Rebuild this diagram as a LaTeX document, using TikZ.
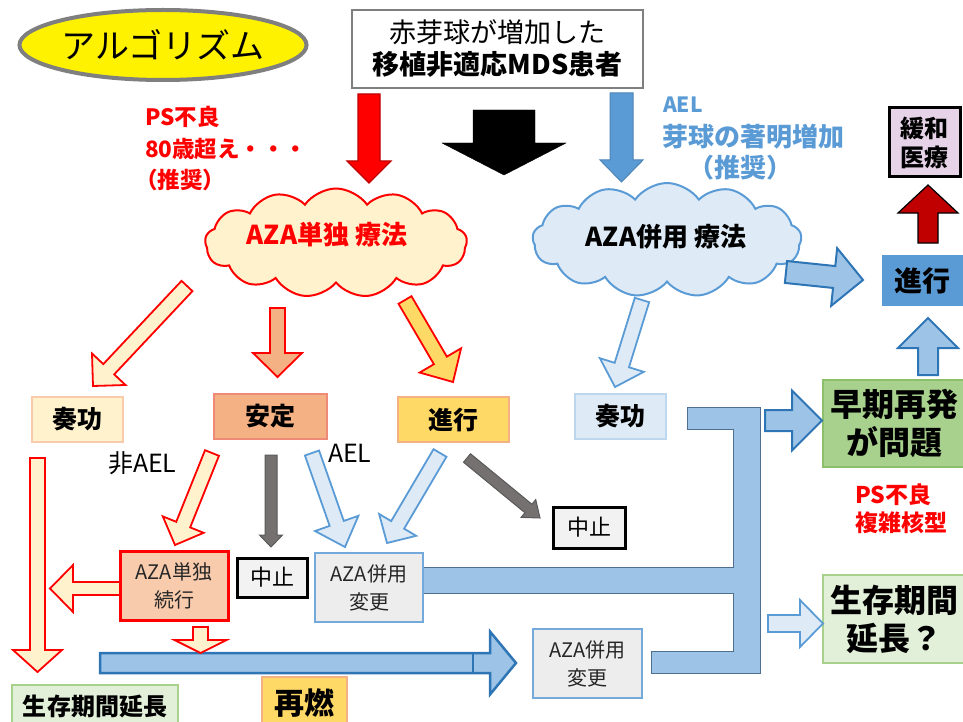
\documentclass[tikz,border=0pt]{standalone}
\usepackage{fontspec}
\setmainfont{Noto Sans CJK JP}
\usetikzlibrary{shapes.symbols,shapes.geometric,calc}
\newcommand\FS[2]{\fontsize{#1}{#2}\selectfont}
\definecolor{cream}{HTML}{FFF2CC}
\definecolor{salmon}{HTML}{F4B183}
\definecolor{yellowo}{HTML}{FFD966}
\definecolor{lsalmon}{HTML}{F8CBAD}
\definecolor{bluelight}{HTML}{DEEBF7}
\definecolor{bluelight2}{HTML}{9DC3E6}
\definecolor{bluemid}{HTML}{5B9BD5}
\definecolor{bluedark}{HTML}{2E75B6}
\definecolor{bluelb}{HTML}{BDD7EE}
\definecolor{greenm}{HTML}{A9D18E}
\definecolor{greenb}{HTML}{8CBF6C}
\definecolor{greenlight}{HTML}{E2F0D9}
\definecolor{gray7}{HTML}{7F7F7F}
\definecolor{gray1}{HTML}{F2F2F2}
\definecolor{grayarr}{HTML}{767171}
\definecolor{gray5}{HTML}{595959}
\definecolor{darkred}{HTML}{C00000}
\definecolor{lavender}{HTML}{E6D3E8}
\definecolor{boxgray}{HTML}{EDEDED}
\definecolor{bracketb}{HTML}{4F6F8F}
\definecolor{stablebd}{HTML}{F08A78}
% block arrow: style, from, to, shaft half width, head half width, head length
\newcommand\BA[6]{%
  \coordinate (baA) at #2;
  \coordinate (baB) at #3;
  \coordinate (baC) at ($(baB)!#6pt!(baA)$);
  \draw[#1] ($(baA)!#4pt!90:(baB)$) -- ($(baC)!#4pt!90:(baB)$) -- ($(baC)!#5pt!90:(baB)$) -- (baB)
    -- ($(baC)!#5pt!-90:(baB)$) -- ($(baC)!#4pt!-90:(baB)$) -- ($(baA)!#4pt!-90:(baB)$) -- cycle;
}
\begin{document}
\begin{tikzpicture}[x=1pt,y=-1pt,every node/.style={inner sep=0pt,outer sep=0pt}]
\tikzset{
  bx/.style={rectangle,line width=1.5pt,align=center},
  bigtxt/.style={font=\FS{25}{30}\bfseries},
  smalltxt/.style={font=\FS{20}{28},text=black!85},
  redarr/.style={draw=red,line width=1.8pt},
  bluearr/.style={fill=bluelight,draw=bluemid,line width=1.8pt},
  dbluearr/.style={fill=bluelight2,draw=bluedark,line width=2pt},
  grayarrow/.style={fill=grayarr,draw=gray5,line width=1pt},
  redtxt/.style={anchor=west,text=red,font=\FS{22.5}{26}\bfseries},
  cloudbase/.style={cloud,cloud puffs=13,cloud puff arc=110,aspect=2.4,line width=2pt}
}
\useasboundingbox (0,0) rectangle (963,722);

% title ellipse
\node[ellipse,draw=gray7,fill=yellow,line width=4pt,minimum width=280pt,minimum height=70pt,font=\FS{34}{40}] (algo) at (163,45) {アルゴリズム};

% top box
\node[bx,draw=gray7,line width=1.2pt,fill=white,minimum width=291pt,minimum height=78pt,font=\FS{27}{32}] (pat) at (497.5,49) {赤芽球が増加した\\\textbf{移植非適応MDS患者}};

% top arrows
\BA{fill=red,draw=red!75!black,line width=1.2pt}{(369,94)}{(369,183)}{11}{22}{22}
\BA{fill=black,draw=black}{(504,110)}{(504,175)}{31}{62}{32}
\BA{fill=bluemid,draw=bluemid!85!black,line width=1pt}{(621.5,93)}{(621.5,182)}{11.5}{21.5}{22}

% red text
\node[redtxt] (ps1) at (145,117) {PS不良};
\node[redtxt] (age) at (145,149) {80歳超え・・・};
\node[redtxt] (rec1) at (135,180) {（推奨）};

% blue text
\node[anchor=west,text=bluemid,font=\FS{21}{26}\bfseries] (ael1) at (663,105) {AEL};
\node[anchor=west,text=bluemid,font=\FS{26}{30}\bfseries] (blast) at (662,137) {芽球の著明増加};
\node[anchor=west,text=bluemid,font=\FS{26}{30}\bfseries] (rec2) at (688,168) {（推奨）};

% clouds
\node[cloudbase,draw=red,fill=cream,minimum width=262pt,minimum height=109pt] (c1) at (336,243) {};
\node[text=red,font=\FS{26}{30}\bfseries] (c1t) at (327,235) {AZA単独 療法};
\node[cloudbase,draw=bluemid,fill=bluelight,minimum width=269pt,minimum height=114pt] (c2) at (667,240) {};
\node[font=\FS{26}{30}\bfseries] (c2t) at (666,237) {AZA併用 療法};

% right column
\node[bx,draw=black,line width=3pt,fill=lavender,minimum width=71pt,minimum height=69pt,font=\FS{24}{29}\bfseries] (kanwa) at (924.5,142.5) {緩和\\医療};
\BA{fill=darkred,draw=black,line width=1.2pt}{(928,243)}{(928,185)}{10}{30}{28}
\node[bx,draw=none,fill=bluemid,minimum width=81pt,minimum height=51pt,font=\FS{28}{32}\bfseries] (prog2) at (922.5,280.5) {進行};
\BA{dbluearr}{(786,272)}{(863,280)}{11}{29}{29}
\BA{dbluearr}{(928,375)}{(928,318)}{10}{30}{30}
\node[bx,draw=greenb,fill=greenm,minimum width=143pt,minimum height=87pt,font=\FS{32}{38}\bfseries] (early) at (894.5,423.5) {早期再発\\が問題};
\BA{dbluearr}{(765,420.5)}{(822,420.5)}{10.5}{30}{30}
\node[redtxt,font=\FS{23}{28}\bfseries] (ps2) at (855,495) {PS不良};
\node[redtxt,font=\FS{23}{28}\bfseries] (cx) at (855,523) {複雑核型};
\node[bx,draw=greenm,fill=greenlight,minimum width=143pt,minimum height=88pt,font=\FS{32}{38}\bfseries] (surv) at (894.5,619) {生存期間\\延長？};
\BA{bluearr}{(768,623.5)}{(823,623.5)}{8.5}{23.5}{23}

% bracket
\draw[fill=bluelight2,draw=bracketb,line width=1pt] (687,407) -- (760,407) -- (760,673) -- (651,673) -- (651,651) -- (733,651) -- (733,593) -- (423,593) -- (423,567) -- (733,567) -- (733,429) -- (687,429) -- cycle;

% blue branch
\BA{bluearr}{(642,300)}{(615,387)}{7.5}{23}{23}
\node[bx,draw=bluelb,fill=bluelight,minimum width=91pt,minimum height=45pt,bigtxt] (resp2) at (620.5,416.5) {奏功};
\node[bx,draw=black,line width=3pt,fill=gray1,minimum width=72pt,minimum height=41pt,font=\FS{22}{26}] (stop2) at (589,527.5) {中止};

% left cloud arrows
\BA{fill=cream,redarr}{(187,286)}{(93,386)}{7.5}{23}{23}
\BA{fill=salmon,redarr}{(277.5,308)}{(277.5,377)}{7.5}{24.5}{24}
\BA{fill=yellowo,redarr}{(405,300)}{(453,382)}{7.5}{24}{25}

% result boxes
\node[bx,draw=lsalmon,fill=cream,minimum width=91pt,minimum height=45pt,bigtxt] (resp1) at (77.5,419.5) {奏功};
\node[bx,draw=stablebd,fill=salmon,minimum width=113pt,minimum height=45pt,bigtxt] (stable) at (270.5,416.5) {安定};
\node[bx,draw=salmon,fill=yellowo,minimum width=111pt,minimum height=45pt,bigtxt] (prog1) at (453.5,419.5) {進行};

\BA{grayarrow}{(467,458)}{(540,518)}{5.5}{11.5}{15}

% second level arrows
\BA{fill=cream,redarr}{(37.5,458)}{(37.5,672)}{7.5}{24.5}{22}
\BA{fill=cream,redarr}{(212,453)}{(175,545)}{7.5}{22}{22}
\BA{grayarrow}{(271,455)}{(271,547)}{6}{11.5}{12}
\BA{bluearr}{(312,453)}{(345,547)}{7.5}{23}{25}
\BA{bluearr}{(440,453)}{(387,543)}{7.5}{21.5}{21}

\node[anchor=west,font=\FS{25}{30}] (nonael) at (108,463) {非AEL};
\node[anchor=west,font=\FS{25}{30}] (ael2) at (328,453) {AEL};

% second level boxes
\node[bx,draw=red,line width=3pt,fill=lsalmon,minimum width=108pt,minimum height=69pt,smalltxt] (cont) at (174,585.5) {AZA単独\\続行};
\node[bx,draw=black,line width=3pt,fill=gray1,minimum width=70pt,minimum height=39pt,font=\FS{22}{26}] (stop1) at (272,577.5) {中止};
\node[bx,draw=bluemid!85,line width=2.5pt,fill=boxgray,minimum width=108pt,minimum height=69pt,smalltxt] (chg1) at (369,587.5) {AZA併用\\変更};

\BA{fill=cream,redarr}{(120,588.5)}{(50,588.5)}{6.5}{23.5}{23}
\BA{fill=bluelight2,draw=bluedark,line width=2.5pt}{(100,663)}{(516,663)}{10}{31.5}{26}
\draw[bluedark,line width=2pt] (473,654) -- (473,672);
\BA{fill=cream,redarr}{(200.5,627)}{(200.5,653)}{7.5}{26}{13}

\node[bx,draw=bluemid!85,line width=2.5pt,fill=boxgray,minimum width=109pt,minimum height=69pt,smalltxt] (chg2) at (587.5,663.5) {AZA併用\\変更};
\node[bx,draw=salmon,fill=yellowo,minimum width=85pt,minimum height=52pt,font=\FS{30}{34}\bfseries] (relapse) at (304.5,703) {再燃};
\node[bx,draw=greenm,fill=greenlight,minimum width=166pt,minimum height=42pt,font=\FS{24}{28}\bfseries] (survL) at (95,706) {生存期間延長};
\end{tikzpicture}
\end{document}
